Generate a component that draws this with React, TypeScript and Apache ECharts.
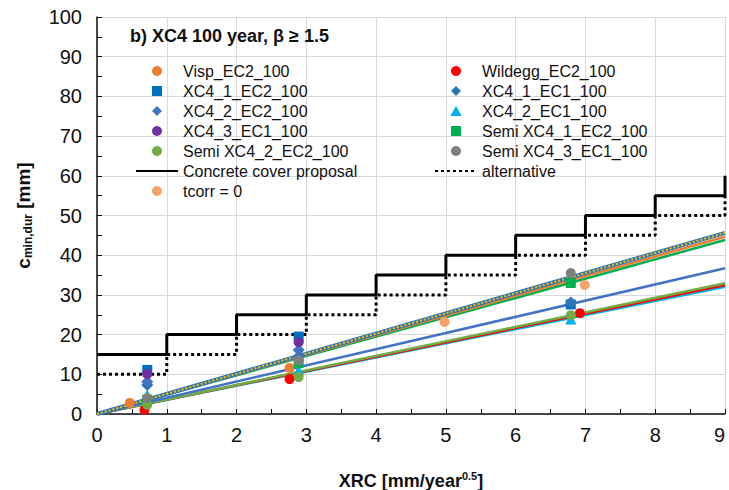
import React, { useEffect, useRef } from "react";
import * as echarts from "echarts";

// Measured points [XRC, c_min,dur]
const visp = [[0.47, 2.8], [2.76, 11.6]];
const wildegg = [[0.68, 1.0], [2.76, 8.8], [6.92, 25.4]];
const xc4_1_ec2 = [[0.72, 11.1], [2.89, 19.5], [6.79, 27.6]];
const xc4_1_ec1 = [[0.72, 7.3], [2.89, 14.5], [6.79, 28.1]];
const xc4_2_ec2 = [[0.72, 8.1], [2.89, 16.1]];
const xc4_2_ec1 = [[0.72, 4.8], [2.89, 11.1], [6.79, 23.9]];
const xc4_3_ec1 = [[0.72, 10.1], [2.89, 18.1]];
const semi_xc4_1_ec2 = [[0.72, 3.6], [2.89, 12.8], [6.79, 33.0]];
const semi_xc4_2_ec2 = [[0.72, 2.3], [2.89, 9.3], [6.79, 24.9]];
const semi_xc4_3_ec1 = [[0.72, 4.0], [2.89, 13.5], [6.79, 35.5]];
const tcorr0 = [[4.98, 23.2], [6.99, 32.5]];

// Cover steps: value holds from each x to the next
const stepX = [0, 1, 2, 3, 4, 5, 6, 7, 8, 9];
const coverProposal = [15, 20, 25, 30, 35, 40, 45, 50, 55, 60];
const coverAlternative = [10, 15, 20, 25, 30, 35, 40, 45, 50, 55];

// Linear trend lines through the origin (slope in mm per unit XRC)
const trendNames = ["XC4_2_EC1", "Wildegg", "SemiXC4_2", "XC4_2_EC2", "SemiXC4_1", "Visp", "XC4_1_EC2", "tcorr"];
const trendSlopes = [3.56, 3.61, 3.66, 4.08, 4.87, 4.96, 5.07, 5.07];
const trendColors = ["#00B0F0", "#FF0000", "#70AD47", "#4472C4", "#00B050", "#ED7D31", "#2E75B6", "#FFC000"];
const trendWidths = [2.5, 2.5, 2.5, 2.5, 2.5, 2.5, 4, 2];

const xMax = 9;
const FONT = "Liberation Sans, Arial, sans-serif";

// Legend icons that keep their proportions inside a wide legend slot
const SQUARE = "path://M0,0h10v10h-10z";
const DIAMOND = "path://M5,0L10,5L5,10L0,5Z";
const TRIANGLE = "path://M5,0L10,9L0,9Z";

export default function App() {
  const ref = useRef<HTMLDivElement>(null);

  useEffect(() => {
    if (!ref.current) return;
    const chart = echarts.init(ref.current, undefined, { renderer: "svg" });

    const scatter = (name: string, data: number[][], color: string, symbol = "circle", size = 10) => ({
      name,
      type: "scatter",
      data,
      symbol,
      symbolSize: size,
      itemStyle: { color, opacity: 1 },
      z: 5,
    });

    const trendSeries = trendSlopes.map((s, i) => ({
      name: "trend " + trendNames[i],
      type: "line",
      data: [[0, 0], [xMax, s * xMax]],
      symbol: "none",
      lineStyle: {
        color: trendColors[i],
        width: trendWidths[i],
        type: trendNames[i] === "tcorr" ? [2, 2] : "solid",
      },
      z: 2,
      silent: true,
    }));

    const legendText = { fontSize: 16, fontFamily: FONT, color: "#111", lineHeight: 20 };
    const legendBase = {
      orient: "vertical",
      top: 61,
      padding: 0,
      itemGap: 0,
      itemWidth: 42,
      itemHeight: 10,
      symbolKeepAspect: true,
      textStyle: legendText,
    };
    const lineItem = (name: string) => ({ name, itemStyle: { opacity: 0 } });

    chart.setOption({
      animation: false,
      textStyle: { fontFamily: FONT },
      title: {
        text: "b) XC4 100 year, \u03b2 \u2265 1.5",
        left: 130,
        top: 27,
        padding: 0,
        textStyle: { fontSize: 18, fontWeight: "bold", color: "#111", fontFamily: FONT },
      },
      grid: { left: 97, right: 4, top: 17, bottom: 76, containLabel: false, outerBoundsMode: "none" },
      legend: [
        {
          ...legendBase,
          left: 135,
          data: [
            { name: "Visp_EC2_100", icon: "circle" },
            { name: "XC4_1_EC2_100", icon: SQUARE },
            { name: "XC4_2_EC2_100", icon: DIAMOND },
            { name: "XC4_3_EC1_100", icon: "circle" },
            { name: "Semi XC4_2_EC2_100", icon: "circle" },
            lineItem("Concrete cover proposal"),
            { name: "tcorr = 0", icon: "circle" },
          ],
        },
        {
          ...legendBase,
          left: 434,
          data: [
            { name: "Wildegg_EC2_100", icon: "circle" },
            { name: "XC4_1_EC1_100", icon: DIAMOND },
            { name: "XC4_2_EC1_100", icon: TRIANGLE },
            { name: "Semi XC4_1_EC2_100", icon: SQUARE },
            { name: "Semi XC4_3_EC1_100", icon: "circle" },
            lineItem("alternative"),
          ],
        },
      ],
      xAxis: {
        type: "value",
        min: 0,
        max: 9,
        interval: 1,
        name: "{b|XRC [mm/year}{sup|0.5}{b|]}",
        nameLocation: "middle",
        nameGap: 56,
        nameTextStyle: {
          rich: {
            b: { fontSize: 18, fontWeight: "bold", lineHeight: 22, color: "#111", fontFamily: FONT },
            sup: { fontSize: 11, fontWeight: "bold", lineHeight: 12, verticalAlign: "top", color: "#111", fontFamily: FONT },
          },
        },
        axisLine: { lineStyle: { color: "#111", width: 1.5 } },
        axisTick: { inside: true, length: 5, lineStyle: { color: "#111" } },
        minorTick: { show: true, splitNumber: 2, length: 5, lineStyle: { color: "#111", width: 1 } },
        axisLabel: { fontSize: 20, color: "#111", margin: 11, fontFamily: FONT, alignMaxLabel: "right" },
        splitLine: { show: true, lineStyle: { color: "#D9D9D9", width: 1 } },
      },
      yAxis: {
        type: "value",
        min: 0,
        max: 100,
        interval: 10,
        name: "{b|c}{sub|min,dur}{b| [mm]}",
        nameLocation: "middle",
        nameGap: 63,
        nameTextStyle: {
          rich: {
            b: { fontSize: 19, fontWeight: "bold", lineHeight: 22, color: "#111", fontFamily: FONT },
            sub: { fontSize: 12, fontWeight: "bold", lineHeight: 12, verticalAlign: "bottom", color: "#111", fontFamily: FONT },
          },
        },
        axisLine: { show: true, lineStyle: { color: "#111", width: 1.5 } },
        axisTick: { show: true, inside: true, length: 5, lineStyle: { color: "#111" } },
        minorTick: { show: true, splitNumber: 2, length: 5, lineStyle: { color: "#111", width: 1 } },
        axisLabel: { fontSize: 20, color: "#111", margin: 15, fontFamily: FONT },
        splitLine: { show: true, lineStyle: { color: "#D9D9D9", width: 1 } },
      },
      series: [
        ...trendSeries,
        {
          name: "Concrete cover proposal",
          type: "line",
          step: "end",
          data: stepX.map((x, i) => [x, coverProposal[i]]),
          symbol: "none",
          lineStyle: { color: "#000", width: 3, type: "solid" },
          itemStyle: { color: "#000" },
          z: 3,
        },
        {
          name: "alternative",
          type: "line",
          step: "end",
          data: stepX.map((x, i) => [x, coverAlternative[i]]),
          symbol: "none",
          lineStyle: { color: "#000", width: 3, type: [3, 3] },
          itemStyle: { color: "#000" },
          z: 3,
        },
        scatter("Visp_EC2_100", visp, "#ED7D31"),
        scatter("Wildegg_EC2_100", wildegg, "#FF0000"),
        scatter("XC4_1_EC2_100", xc4_1_ec2, "#0070C0", "rect", 10),
        scatter("XC4_1_EC1_100", xc4_1_ec1, "#2E75B6", "diamond", 12),
        scatter("XC4_2_EC2_100", xc4_2_ec2, "#4472C4", "diamond", 12),
        scatter("XC4_2_EC1_100", xc4_2_ec1, "#00B0F0", "triangle", 11),
        scatter("XC4_3_EC1_100", xc4_3_ec1, "#7030A0"),
        scatter("Semi XC4_1_EC2_100", semi_xc4_1_ec2, "#00B050", "rect", 10),
        scatter("Semi XC4_2_EC2_100", semi_xc4_2_ec2, "#70AD47"),
        scatter("Semi XC4_3_EC1_100", semi_xc4_3_ec1, "#7F7F7F"),
        scatter("tcorr = 0", tcorr0, "#F4A46A"),
      ],
    });

    return () => chart.dispose();
  }, []);

  return <div ref={ref} style={{ width: 729, height: 490, position: "absolute", left: 0, top: 0 }} />;
}
